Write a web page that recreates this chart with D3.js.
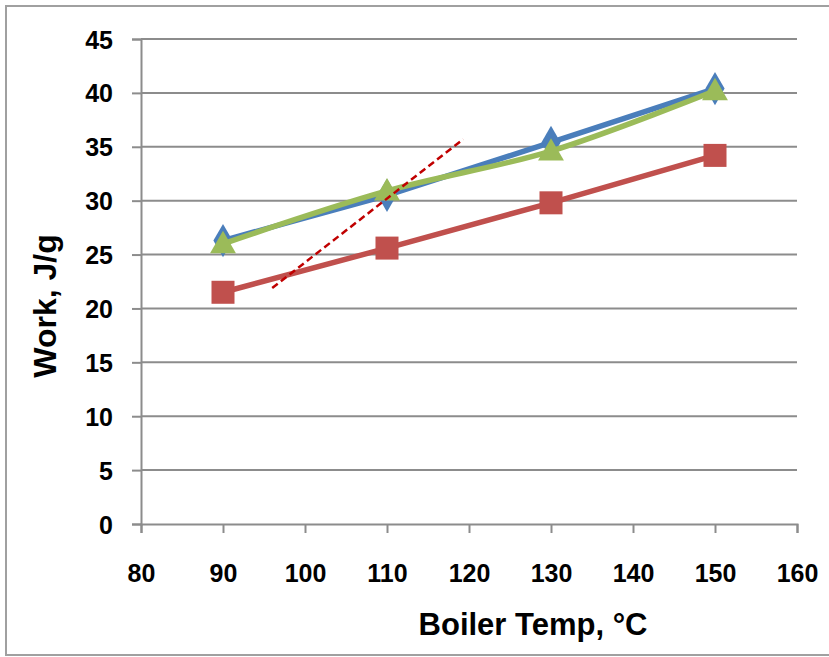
<!DOCTYPE html>
<html>
<head>
<meta charset="utf-8">
<script src="https://cdn.jsdelivr.net/npm/d3@7"></script>
<style>
  body { margin: 0; background: #fff; }
  text { font-family: "Liberation Sans", Arial, sans-serif; font-weight: bold; fill: #000; }
</style>
</head>
<body>
<div id="container"></div>
<script>
// chart size
let w = 829;
let h = 657;

// data
let temps = [90, 110, 130, 150];
let blueWork = [26.3, 30.5, 35.4, 40.4];
let greenWork = [26.0, 30.9, 34.6, 40.2];
let redWork = [21.5, 25.6, 29.8, 34.2];
let dashX = [96, 119.3];
let dashY = [21.9, 35.7];
let xTicks = [80, 90, 100, 110, 120, 130, 140, 150, 160];
let yTicks = [0, 5, 10, 15, 20, 25, 30, 35, 40, 45];

let svg = d3.select("#container").append("svg")
  .attr("width", w)
  .attr("height", h);

// outer frame
svg.append("rect")
  .attr("x", 6).attr("y", 6)
  .attr("width", 840).attr("height", 649)
  .attr("fill", "none")
  .attr("stroke", "#a0a0a0")
  .attr("stroke-width", 2);

let x = d3.scaleLinear().domain([80, 160]).range([141, 797]);
let y = d3.scaleLinear().domain([0, 45]).range([524, 39]);

// gridlines
svg.append("g").selectAll("line")
  .data(yTicks.filter(d => d > 0))
  .enter().append("line")
    .attr("x1", 141).attr("x2", 797)
    .attr("y1", d => y(d)).attr("y2", d => y(d))
    .attr("stroke", "#8c8c8c")
    .attr("stroke-width", 2);

// y axis
let yAxis = svg.append("g")
  .attr("transform", "translate(141,0)")
  .call(d3.axisLeft(y).tickValues(yTicks).tickSize(9).tickPadding(19));
yAxis.select(".domain").attr("stroke", "#8c8c8c").attr("stroke-width", 2);
yAxis.selectAll(".tick line").attr("stroke", "#8c8c8c").attr("stroke-width", 2);
yAxis.selectAll("text").style("font-size", "25px").attr("dy", "0.36em");

// x axis
let xAxis = svg.append("g")
  .attr("transform", "translate(0,524)")
  .call(d3.axisBottom(x).tickValues(xTicks).tickSize(9).tickPadding(31));
xAxis.select(".domain").attr("stroke", "#8c8c8c").attr("stroke-width", 2);
xAxis.selectAll(".tick line").attr("stroke", "#8c8c8c").attr("stroke-width", 2);
xAxis.selectAll("text").style("font-size", "25px");

// axis titles
svg.append("text")
  .attr("x", 533).attr("y", 635)
  .attr("text-anchor", "middle")
  .style("font-size", "31px")
  .text("Boiler Temp, \u00B0C");

svg.append("text")
  .attr("transform", "translate(56,306) rotate(-90)")
  .attr("text-anchor", "middle")
  .style("font-size", "32px")
  .text("Work, J/g");

let lineStraight = d3.line().x(d => x(d[0])).y(d => y(d[1]));
let lineSmooth = d3.line().x(d => x(d[0])).y(d => y(d[1])).curve(d3.curveCatmullRom.alpha(0.5));

let blueData = temps.map((t, i) => [t, blueWork[i]]);
let greenData = temps.map((t, i) => [t, greenWork[i]]);
let redData = temps.map((t, i) => [t, redWork[i]]);

// blue series (diamonds)
svg.append("path")
  .attr("d", lineStraight(blueData))
  .attr("fill", "none").attr("stroke", "#4a7ebb").attr("stroke-width", 5.5);
svg.append("g").selectAll("path")
  .data(blueData)
  .enter().append("path")
    .attr("d", d3.symbol(d3.symbolDiamond, 320)())
    .attr("transform", d => "translate(" + x(d[0]) + "," + y(d[1]) + ")")
    .attr("fill", "#4a7ebb");

// red series (squares)
svg.append("path")
  .attr("d", lineStraight(redData))
  .attr("fill", "none").attr("stroke", "#c0504d").attr("stroke-width", 5.5);
svg.append("g").selectAll("rect")
  .data(redData)
  .enter().append("rect")
    .attr("x", d => x(d[0]) - 11.5).attr("y", d => y(d[1]) - 11.5)
    .attr("width", 23).attr("height", 23)
    .attr("fill", "#c0504d");

// green series (triangles, smoothed)
svg.append("path")
  .attr("d", lineSmooth(greenData))
  .attr("fill", "none").attr("stroke", "#9bbb59").attr("stroke-width", 5.5);
svg.append("g").selectAll("path")
  .data(greenData)
  .enter().append("path")
    .attr("d", d3.symbol(d3.symbolTriangle, 290)())
    .attr("transform", d => "translate(" + x(d[0]) + "," + (y(d[1]) + 2) + ")")
    .attr("fill", "#9bbb59");

// dashed tangent line
svg.append("line")
  .attr("x1", x(dashX[0])).attr("y1", y(dashY[0]))
  .attr("x2", x(dashX[1])).attr("y2", y(dashY[1]))
  .attr("stroke", "#c00000")
  .attr("stroke-width", 2.5)
  .attr("stroke-dasharray", "7,4");
</script>
</body>
</html>
